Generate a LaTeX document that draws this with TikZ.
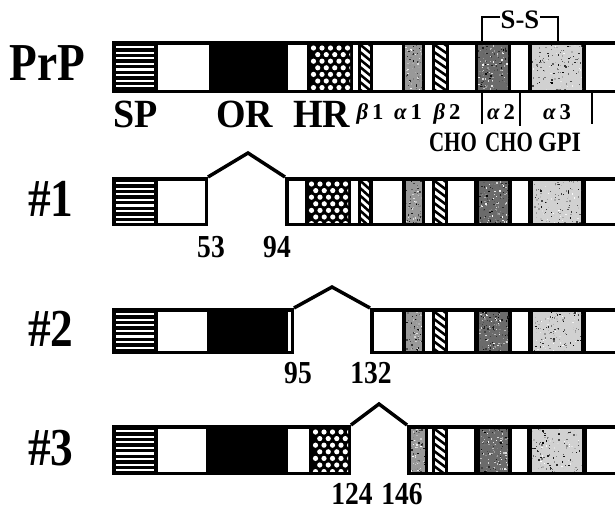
\documentclass[tikz,border=0pt]{standalone}
\usepackage{fontspec}
\setmainfont{Liberation Serif}
\begin{document}
\newcommand\stip[6]{%
  \fill[black!#5] (#1,#3) rectangle (#2,#4);
  \begin{scope}
    \clip (#1,#3) rectangle (#2,#4);
    \foreach \ii in {1,...,#6}{%
      \pgfmathsetmacro\px{#1+rnd*(#2-#1)}%
      \pgfmathsetmacro\py{#3+rnd*(#4-#3)}%
      \pgfmathsetmacro\pc{int(rnd*100)}%
      \fill[black!\pc] (\px,\py) rectangle ++(1.3,1.3);
    }
  \end{scope}}
\newcommand\cellW[4]{\fill[white] (#1,#3) rectangle (#2,#4);}
\newcommand\cellS[4]{\begin{scope}\clip (#1,#3) rectangle (#2,#4);
  \foreach \kk in {0,...,7}{\fill[white] (#1,{#3+1.5+\kk*5.6}) rectangle (#2,{#3+3.7+\kk*5.6});}\end{scope}}
\newcommand\cellD[4]{\begin{scope}\clip (#1,#3) rectangle (#2,#4);
  \foreach \rr in {0,...,6}{\foreach \cc in {0,...,5}{\fill[white] ({#1+3.5+\cc*8.5+mod(\rr,2)*4.25},{#3+3.5+\rr*6.6}) circle (2.6);}}\end{scope}}
\newcommand\cellH[4]{\fill[white] (#1,#3) rectangle (#2,#4);
  \begin{scope}\clip (#1,#3) rectangle (#2,#4);
  \foreach \kk in {-2,...,8}{\draw[line width=1.9pt] ({#1-1},{#3+\kk*7.5}) -- ({#2+1},{#3+\kk*7.5+9});}\end{scope}}
\newcommand\cellA[4]{\stip{#1}{#2}{#3}{#4}{40}{70}}
\newcommand\cellB[4]{\stip{#1}{#2}{#3}{#4}{58}{130}}
\newcommand\cellC[4]{\stip{#1}{#2}{#3}{#4}{18}{120}}
\newcommand\rowcells[3]{\foreach \t/\a/\b in {#3}{\csname cell\t\endcsname{\a}{\b}{#1}{#2}}}
\begin{tikzpicture}[x=0.75pt,y=-0.75pt,
  lbl/.style={inner sep=0pt, outer sep=0pt},
  bigl/.style={lbl, font=\fontsize{40}{40}\selectfont\bfseries, xscale=0.85, anchor=base west},
  dom/.style={lbl, font=\fontsize{30}{30}\selectfont\bfseries, xscale=0.95, anchor=base west},
  sec/.style={lbl, font=\fontsize{17}{17}\selectfont\bfseries, anchor=base},
  cho/.style={lbl, font=\fontsize{21}{21}\selectfont\bfseries, xscale=0.75, anchor=base},
  num/.style={lbl, font=\fontsize{24}{24}\selectfont\bfseries, xscale=0.86, anchor=base},
  bump/.style={line width=2.6pt, line join=miter},
  markline/.style={line width=1.2pt},
  brk/.style={line width=1.3pt}]
\pgfmathsetseed{7}
\useasboundingbox (0,0) rectangle (615,511);
\clip (0,0) rectangle (615,511);
\fill[white] (0,0) rectangle (615,511);

% ---------- PrP ----------
\fill (112,41) rectangle (630,93);
\rowcells{44.5}{89.5}{S/116/154, W/158/209, W/288/307, D/310/350, W/353/358, H/361/370, W/373/402, A/405/422, W/425/432, H/435/446, W/449/475, B/478/508, W/511/528, C/532/582, W/586/630}

% ---------- #1 ----------
\fill (112,177) rectangle (208,226);
\fill (285,177) rectangle (630,226);
\rowcells{180.5}{222.5}{S/116/154, W/158/205, W/289/305, D/308/348, W/351/358, H/361/369, W/373/402, A/406/422, W/425/432, H/435/445, W/448/474, B/479/508, W/512/528, C/533/581, W/586/630}

% ---------- #2 ----------
\fill (112,308) rectangle (294,354);
\fill (370,308) rectangle (630,354);
\rowcells{311.5}{350.5}{S/116/154, W/158/207, W/288/291, W/374/402, A/406/422, W/425/432, H/435/445, W/448/474, B/479/508, W/512/528, C/533/581, W/586/630}

% ---------- #3 ----------
\fill (112,425) rectangle (351,475);
\fill (407,425) rectangle (630,475);
\rowcells{428.5}{471.5}{S/116/154, W/158/206, W/288/309, D/312/348, A/411/425, W/428/432, H/435/445, W/448/474, B/480/508, W/512/527, C/532/582, W/587/630}

% ---------- bumps ----------
\coordinate (p1a) at (208,177); \coordinate (p1t) at (248,153); \coordinate (p1b) at (285,177);
\coordinate (p2a) at (294,308); \coordinate (p2t) at (332,287); \coordinate (p2b) at (370,308);
\coordinate (p3a) at (351,425); \coordinate (p3t) at (379,404); \coordinate (p3b) at (407,425);
\draw[bump] (p1a) -- (p1t) -- (p1b);
\draw[bump] (p2a) -- (p2t) -- (p2b);
\draw[bump] (p3a) -- (p3t) -- (p3b);

% ---------- S-S bracket ----------
\node[lbl, font=\fontsize{20}{20}\selectfont\bfseries, anchor=base] (ss) at (520,28) {S-S};
\coordinate (sa) at (500,17); \coordinate (sb) at (540,17);
\coordinate (sl) at (482,41); \coordinate (sr) at (558,41);
\draw[brk] (sa) -| (sl);
\draw[brk] (sb) -| (sr);

% ---------- marker lines ----------
\coordinate (m1a) at (482,93); \coordinate (m1b) at (482,124);
\coordinate (m2a) at (520,93); \coordinate (m2b) at (520,126);
\coordinate (m3a) at (592,93); \coordinate (m3b) at (592,124);
\draw[markline] (m1a) -- (m1b);
\draw[markline] (m2a) -- (m2b);
\draw[markline] (m3a) -- (m3b);

% ---------- labels ----------
\node[bigl] (prp) at (10,80) {PrP};
\node[bigl] (r1) at (28,216.5) {\#1};
\node[bigl] (r2) at (28,346) {\#2};
\node[bigl] (r3) at (28,465) {\#3};

\node[dom] (sp) at (113,127) {SP};
\node[dom] (or) at (216,127) {OR};
\node[dom] (hr) at (293,127) {HR};

\node[sec] (b1) at (370,119) {\textit{β}\,1};
\node[sec] (a1) at (408,119) {\textit{α}\,1};
\node[sec] (b2) at (447,119) {\textit{β}\,2};
\node[sec] (a2) at (501,119) {\textit{α}\,2};
\node[sec] (a3) at (557,119) {\textit{α}\,3};

\node[cho] (cho1) at (453,151) {CHO};
\node[cho] (cho2) at (509,151) {CHO};
\node[cho, xscale=1.15, anchor=base west] (gpi) at (538,151) {GPI};

\node[num] (n53) at (211,257) {53};
\node[num] (n94) at (277,257) {94};
\node[num] (n95) at (298,383) {95};
\node[num] (n132) at (371,383) {132};
\node[num] (n124) at (352,504) {124};
\node[num] (n146) at (402,504) {146};
\end{tikzpicture}
\end{document}
